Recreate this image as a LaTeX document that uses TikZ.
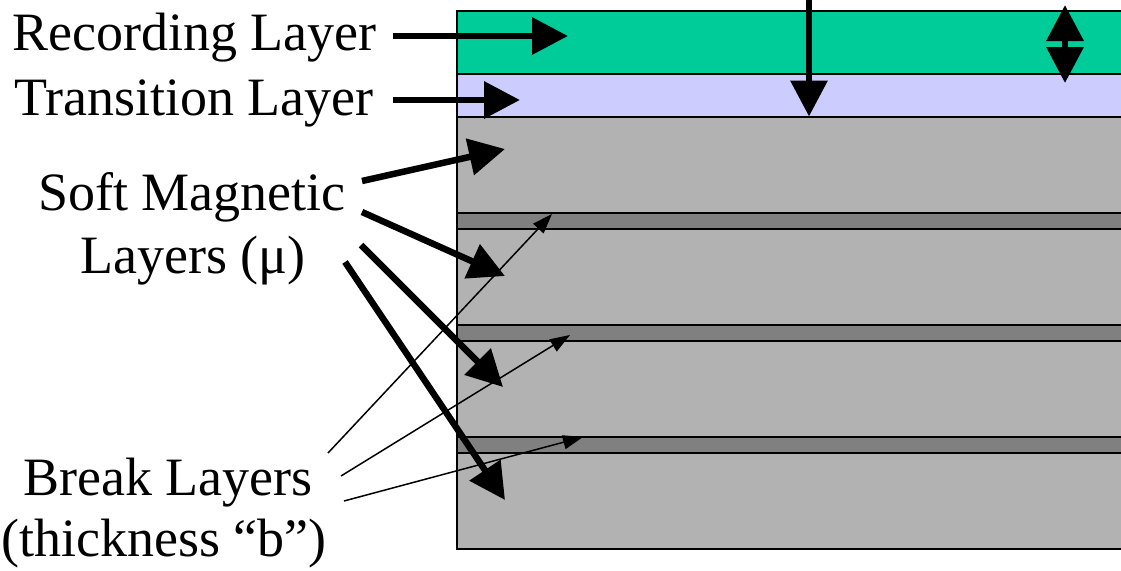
\documentclass[tikz,border=0pt]{standalone}
\usepackage{fontspec}
\setmainfont{Liberation Serif}
\usetikzlibrary{arrows.meta}
\definecolor{recgreen}{RGB}{0,204,153}
\definecolor{translav}{RGB}{204,204,255}
\definecolor{softgray}{RGB}{178,178,178}
\definecolor{breakgray}{RGB}{128,128,128}
\begin{document}
\begin{tikzpicture}[x=1pt,y=-1pt,
  layerbox/.style={draw=black, line width=2pt},
  lbl/.style={font=\fontsize{54}{62}\selectfont, inner sep=0pt},
  bigarrow/.style={line width=6.5pt, -{Triangle[length=36pt,width=36pt]}},
  dblarrow/.style={line width=6.5pt, {Triangle[length=36pt,width=36pt]}-{Triangle[length=36pt,width=36pt]}},
  thinarrow/.style={line width=1.5pt, -{Triangle[length=20pt,width=14pt]}}]
\useasboundingbox (0,0) rectangle (1121,570);
\begin{scope}
\clip (0,0) rectangle (1121,570);
\draw[layerbox, fill=recgreen] (457,10.5) rectangle (1135,74);
\draw[layerbox, fill=translav] (457,74) rectangle (1135,116.5);
\draw[layerbox, fill=softgray] (457,116.5) rectangle (1135,212.5);
\draw[layerbox, fill=breakgray] (457,212.5) rectangle (1135,229);
\draw[layerbox, fill=softgray] (457,229) rectangle (1135,324.5);
\draw[layerbox, fill=breakgray] (457,324.5) rectangle (1135,341);
\draw[layerbox, fill=softgray] (457,341) rectangle (1135,436.5);
\draw[layerbox, fill=breakgray] (457,436.5) rectangle (1135,453);
\draw[layerbox, fill=softgray] (457,453) rectangle (1135,548.5);
\end{scope}

\node[lbl, anchor=base west] (rec) at (12,50) {Recording Layer};
\node[lbl, anchor=base west] (trans) at (14,115) {Transition Layer};
\node[lbl, anchor=base] (sm1) at (192,210) {Soft Magnetic};
\node[lbl, anchor=base] (sm2) at (193,273) {Layers (μ)};
\node[lbl, anchor=base] (br1) at (168,495) {Break Layers};
\node[lbl, anchor=base] (br2) at (164,556) {(thickness “b”)};

% recording / transition pointers
\coordinate (recS) at (393,36);   \coordinate (recT) at (568,36);
\coordinate (trS) at (393,100);   \coordinate (trT) at (520,100);
\draw[bigarrow] (recS) -- (recT);
\draw[bigarrow] (trS) -- (trT);
% vertical arrow and thickness marker
\coordinate (vS) at (809,-5); \coordinate (vT) at (809,116.5);
\draw[bigarrow] (vS) -- (vT);
\coordinate (dA) at (1065,5); \coordinate (dB) at (1065,83);
\draw[dblarrow] (dA) -- (dB);
% soft magnetic pointers
\coordinate (s1) at (362,181); \coordinate (t1) at (505,149);
\coordinate (s2) at (362,212); \coordinate (t2) at (505,276);
\coordinate (s3) at (361,245); \coordinate (t3) at (503,387);
\coordinate (s4) at (345,262); \coordinate (t4) at (505,500);
\draw[bigarrow] (s1) -- (t1);
\draw[bigarrow] (s2) -- (t2);
\draw[bigarrow] (s3) -- (t3);
\draw[bigarrow] (s4) -- (t4);
% break layer pointers
\coordinate (b1) at (328,453); \coordinate (u1) at (552,214);
\coordinate (b2) at (341,476); \coordinate (u2) at (570,335);
\coordinate (b3) at (344,501); \coordinate (u3) at (583,437);
\draw[thinarrow] (b1) -- (u1);
\draw[thinarrow] (b2) -- (u2);
\draw[thinarrow] (b3) -- (u3);
\end{tikzpicture}
\end{document}
